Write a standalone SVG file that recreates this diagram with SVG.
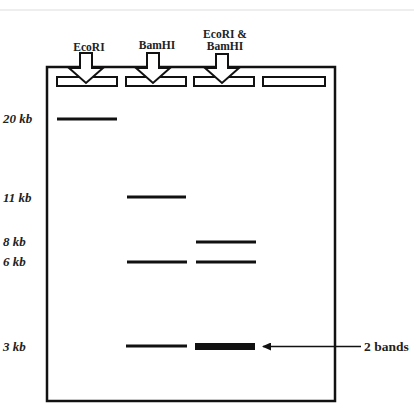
<svg xmlns="http://www.w3.org/2000/svg" width="414" height="417" viewBox="0 0 414 417">
<defs>
<style>
.lbl{font-family:"Liberation Serif","DejaVu Serif",serif;font-weight:bold;font-size:11.5px;fill:#222}
.kb{font-family:"Liberation Serif","DejaVu Serif",serif;font-weight:bold;font-style:italic;font-size:13px;fill:#222}
.well{fill:#fff;stroke:#111;stroke-width:2}
.arr{fill:#fff;stroke:#111;stroke-width:2;stroke-linejoin:miter}
.band{stroke:#111;stroke-width:3}
</style>
<marker id="ah" markerWidth="9" markerHeight="8" refX="8" refY="4" orient="auto" markerUnits="userSpaceOnUse">
<path d="M0,0 L9,4 L0,8 Z" fill="#111"/>
</marker>
</defs>
<rect width="414" height="417" fill="#fff"/>
<line x1="0" y1="10" x2="414" y2="10" stroke="#ddd" stroke-width="1"/>
<g id="gel">
<rect x="47" y="67" width="288" height="334" fill="none" stroke="#111" stroke-width="2.5"/>
</g>
<g id="wells">
<rect class="well" x="57" y="77" width="60" height="9"/>
<rect class="well" x="126" y="77" width="60" height="9"/>
<rect class="well" x="194" y="77" width="60" height="9"/>
<rect class="well" x="263" y="77" width="62" height="9"/>
</g>
<g id="lane-labels">
<text class="lbl" x="89" y="51" text-anchor="middle">EcoRI</text>
<text class="lbl" x="157" y="49" text-anchor="middle">BamHI</text>
<text class="lbl" x="225" y="38" text-anchor="middle">EcoRI &amp;</text>
<text class="lbl" x="225" y="50" text-anchor="middle">BamHI</text>
</g>
<g id="load-arrows">
<path class="arr" d="M80,53 H92 V68 H103 L86,83 L69,68 H80 Z"/>
<path class="arr" d="M147,53 H159 V68 H170 L153,83 L136,68 H147 Z"/>
<path class="arr" d="M216,54 H228 V68 H239 L222,83 L205,68 H216 Z"/>
</g>
<g id="size-labels">
<text class="kb" x="3" y="123">20 kb</text>
<text class="kb" x="3" y="202">11 kb</text>
<text class="kb" x="3" y="246">8 kb</text>
<text class="kb" x="3" y="266">6 kb</text>
<text class="kb" x="3" y="351">3 kb</text>
</g>
<g id="bands">
<line class="band" x1="57" y1="119" x2="117" y2="119"/>
<line class="band" x1="127" y1="197" x2="186" y2="197"/>
<line class="band" x1="196" y1="242" x2="256" y2="242"/>
<line class="band" x1="127" y1="262" x2="187" y2="262"/>
<line class="band" x1="196" y1="262" x2="256" y2="262"/>
<line class="band" x1="126" y1="346" x2="187" y2="346"/>
<rect x="195" y="343" width="60" height="7" fill="#111"/>
</g>
<g id="connectors">
<line x1="361" y1="346.5" x2="263" y2="346.5" stroke="#111" stroke-width="1.5" marker-end="url(#ah)"/>
</g>
<g id="note">
<text class="lbl" x="364" y="351" style="font-size:13.5px">2 bands</text>
</g>
</svg>
